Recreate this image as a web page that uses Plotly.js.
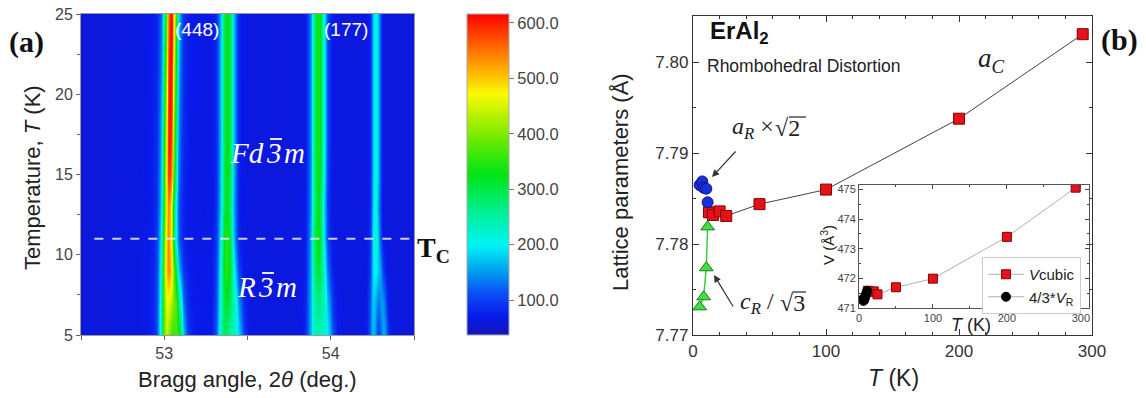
<!DOCTYPE html>
<html>
<head>
<meta charset="utf-8">
<script src="https://cdn.plot.ly/plotly-3.0.1.min.js"></script>
<style>html,body{margin:0;padding:0;background:#fff;}#plot{width:1146px;height:398px;}</style>
</head>
<body>
<div id="plot"></div>
<script>
// ---------- Panel (a): diffraction map, peak parameters ----------
const mapTemps = [5, 7, 9, 11, 13, 15, 17, 19, 21, 23, 25];           // K
const peak448Center = [53.012, 53.014, 53.017, 53.021, 53.026, 53.030, 53.032, 53.034, 53.036, 53.038, 53.040];
const peak448Amp    = [340, 350, 365, 395, 475, 530, 545, 550, 550, 550, 550];
const peak448SplitC = [53.078, 53.068, 53.052, 53.040, 53.03, 53.03, 53.03, 53.03, 53.03, 53.03, 53.03];
const peak448SplitA = [270, 250, 210, 100, 0, 0, 0, 0, 0, 0, 0];
const peakBCenter   = [53.360, 53.364, 53.368, 53.373, 53.376, 53.377, 53.378, 53.378, 53.378, 53.378, 53.378];
const peakBAmp      = [210, 215, 225, 245, 262, 270, 270, 270, 270, 270, 270];
const peakBSplitC   = [53.428, 53.418, 53.402, 53.386, 53.38, 53.38, 53.38, 53.38, 53.38, 53.38, 53.38];
const peakBSplitA   = [140, 130, 100, 50, 0, 0, 0, 0, 0, 0, 0];
const peak177Center = [53.905, 53.908, 53.913, 53.919, 53.922, 53.924, 53.925, 53.925, 53.925, 53.925, 53.925];
const peak177Amp    = [150, 160, 180, 225, 262, 275, 280, 280, 280, 280, 280];
const peak177SplitC = [53.968, 53.960, 53.948, 53.934, 53.93, 53.93, 53.93, 53.93, 53.93, 53.93, 53.93];
const peak177SplitA = [140, 130, 105, 55, 0, 0, 0, 0, 0, 0, 0];
const peakDCenter   = [54.253, 54.256, 54.261, 54.266, 54.268, 54.270, 54.270, 54.270, 54.270, 54.270, 54.270];
const peakDAmp      = [105, 110, 120, 140, 155, 160, 160, 160, 160, 160, 160];
const peakDSplitC   = [54.318, 54.308, 54.293, 54.280, 54.27, 54.27, 54.27, 54.27, 54.27, 54.27, 54.27];
const peakDSplitA   = [95, 90, 75, 35, 0, 0, 0, 0, 0, 0, 0];
const peakWidths    = [0.027, 0.030, 0.030, 0.018];   // sigma, deg (448, B, 177, D)
const peakLorentz   = [0.30, 0.12, 0.12, 0.12];       // Lorentzian fraction of each profile
const mapBackground = 60;
const cbTickVals = [100, 200, 300, 400, 500, 600];
const cbTickText = ['100.0', '200.0', '300.0', '400.0', '500.0', '600.0'];

// ---------- Panel (b): lattice parameters ----------
const cubicT = [12, 15, 20, 25, 50, 100, 200, 293];
const cubicA = [7.7835, 7.7832, 7.7836, 7.7831, 7.7844, 7.7860, 7.7938, 7.8031];
const rhombAT = [5, 7, 8, 10, 11];
const rhombA  = [7.7865, 7.7869, 7.7862, 7.7861, 7.7846];
const rhombCT = [5, 8, 10, 11];
const rhombC  = [7.7731, 7.7742, 7.7774, 7.7819];
// inset: volume
const volCubicT = [12, 15, 20, 25, 50, 100, 200, 293];
const volCubic  = [471.58, 471.55, 471.56, 471.46, 471.70, 471.99, 473.40, 475.06];
const volRhombT = [5, 6, 7, 8, 9, 10, 11];
const volRhomb  = [471.30, 471.24, 471.27, 471.33, 471.42, 471.50, 471.58];

// ---------- build heatmap grid ----------
const thetaGrid = [];
for (let i = 0; i <= 400; i++) thetaGrid.push(+(52.5 + i * 0.005).toFixed(3));
function pv(x, c, a, s, eta) {
  if (a <= 0) return 0;
  const d = x - c;
  const g = Math.exp(-d * d / (2 * s * s));
  const gam = 1.1774 * s;
  const l = 1 / (1 + (d / gam) * (d / gam));
  return a * ((1 - eta) * g + eta * l);
}
const peakSets = [
  [peak448Center, peak448Amp, peak448SplitC, peak448SplitA],
  [peakBCenter, peakBAmp, peakBSplitC, peakBSplitA],
  [peak177Center, peak177Amp, peak177SplitC, peak177SplitA],
  [peakDCenter, peakDAmp, peakDSplitC, peakDSplitA]
];
const zGrid = mapTemps.map((T, r) => thetaGrid.map(x => {
  let v = mapBackground;
  peakSets.forEach((p, k) => {
    v += pv(x, p[0][r], p[1][r], peakWidths[k], peakLorentz[k]);
    v += pv(x, p[2][r], p[3][r], peakWidths[k] * 1.05, peakLorentz[k]);
  });
  return v;
}));

const jet = [
  [0.00, 'rgb(20,20,185)'],
  [0.06, 'rgb(8,26,236)'],
  [0.13, 'rgb(10,80,245)'],
  [0.20, 'rgb(0,160,240)'],
  [0.28, 'rgb(0,245,245)'],
  [0.38, 'rgb(0,240,150)'],
  [0.50, 'rgb(0,228,20)'],
  [0.62, 'rgb(120,235,0)'],
  [0.75, 'rgb(250,250,0)'],
  [0.85, 'rgb(255,150,0)'],
  [0.93, 'rgb(255,70,0)'],
  [1.00, 'rgb(255,0,0)']
];

const W = 1146, H = 398;
const px = v => v / W, py = v => 1 - v / H;

const traces = [
  {
    type: 'heatmap', x: thetaGrid, y: mapTemps, z: zGrid,
    xaxis: 'x', yaxis: 'y', zsmooth: 'best', zmin: 37, zmax: 616,
    colorscale: jet, hoverinfo: 'skip',
    colorbar: {
      x: px(467), xanchor: 'left', y: py(174.5), yanchor: 'middle',
      thickness: 42, thicknessmode: 'pixels', len: 321, lenmode: 'pixels',
      tickvals: cbTickVals, ticktext: cbTickText, ticks: 'outside', ticklen: 5,
      tickcolor: '#777', outlinewidth: 1, outlinecolor: '#aaa', xpad: 0, ypad: 0,
      tickfont: {family: 'Liberation Sans, Arial, sans-serif', size: 16.5, color: '#444'}
    }
  },
  {
    type: 'scatter', mode: 'lines+markers', x: cubicT, y: cubicA, xaxis: 'x2', yaxis: 'y2',
    line: {color: '#444', width: 1},
    marker: {symbol: 'square', size: 11, color: '#e4121a', line: {color: '#8a0000', width: 1}},
    showlegend: false
  },
  {
    type: 'scatter', mode: 'markers', x: rhombAT, y: rhombA, xaxis: 'x2', yaxis: 'y2',
    marker: {symbol: 'circle', size: 11, color: '#1730d8', line: {color: '#0a1380', width: 1}},
    showlegend: false
  },
  {
    type: 'scatter', mode: 'lines+markers', x: rhombCT, y: rhombC, xaxis: 'x2', yaxis: 'y2',
    line: {color: '#3ccc3c', width: 1.5},
    marker: {symbol: 'triangle-up', size: 12, color: '#3fe03f', line: {color: '#1a7a1a', width: 1}},
    showlegend: false
  },
  {
    type: 'scatter', mode: 'lines+markers', x: volCubicT, y: volCubic, xaxis: 'x3', yaxis: 'y3',
    name: '<i>V</i>cubic',
    line: {color: '#b0b0b0', width: 1},
    marker: {symbol: 'square', size: 9, color: '#e4121a', line: {color: '#8a0000', width: 1}}
  },
  {
    type: 'scatter', mode: 'lines+markers', x: volRhombT, y: volRhomb, xaxis: 'x3', yaxis: 'y3',
    name: '4/3*<i>V</i><sub>R</sub>',
    line: {color: '#b0b0b0', width: 1},
    marker: {symbol: 'circle', size: 9, color: '#000', line: {color: '#000', width: 1}}
  }
];

const sans = 'Liberation Sans, Arial, sans-serif';
const serif = 'Liberation Serif, Times New Roman, serif';

function ann(x, y, text, opts) {
  return Object.assign({xref: 'paper', yref: 'paper', x: px(x), y: py(y), text: text,
    showarrow: false, xanchor: 'left', yanchor: 'middle'}, opts || {});
}
const white29 = {family: serif, size: 29, color: '#fff'};
const dark24 = {family: serif, size: 24, color: '#222'};

const annotations = [
  ann(7, 42, '<b>(a)</b>', {font: {family: serif, size: 30, color: '#111'}}),
  ann(1099, 40, '<b>(b)</b>', {font: {family: serif, size: 30, color: '#111'}}),
  ann(415, 249, '<b>T<sub>C</sub></b>', {font: {family: serif, size: 28, color: '#111'}}),
  ann(197, 30, '(448)', {xanchor: 'center', font: {family: sans, size: 19, color: '#fff'}}),
  ann(346, 30, '(177)', {xanchor: 'center', font: {family: sans, size: 19, color: '#fff'}}),
  // Fd-3m
  ann(266, 153, '<i>Fd</i>', {xanchor: 'right', font: white29}),
  ann(274, 153, '<i>3</i>', {xanchor: 'center', font: white29}),
  ann(282, 153, '<i>m</i>', {xanchor: 'left', font: white29}),
  // R-3m
  ann(258, 287, '<i>R</i>', {xanchor: 'right', font: white29}),
  ann(266, 287, '<i>3</i>', {xanchor: 'center', font: white29}),
  ann(274, 287, '<i>m</i>', {xanchor: 'left', font: white29}),
  ann(32, 178, 'Temperature, <i>T</i> (K)', {xanchor: 'center', textangle: -90, font: {family: sans, size: 22, color: '#222'}}),
  ann(247, 379, 'Bragg angle, 2<i>θ</i> (deg.)', {xanchor: 'center', font: {family: sans, size: 22, color: '#222'}}),
  ann(708, 32, '<b>ErAl<sub>2</sub></b>', {font: {family: sans, size: 24, color: '#111'}}),
  ann(705, 66, 'Rhombohedral Distortion', {font: {family: sans, size: 17.5, color: '#222'}}),
  ann(976, 60, '<i>a<sub>C</sub></i>', {font: {family: serif, size: 27, color: '#222'}}),
  ann(730, 128, '<i>a<sub>R</sub></i> ×', {font: dark24}),
  ann(773, 128, '√2', {font: dark24}),
  ann(738, 303, '<i>c<sub>R</sub></i> /', {font: dark24}),
  ann(778, 303, '√3', {font: dark24}),
  {xref: 'paper', yref: 'paper', x: px(712), y: py(177), ax: 25, ay: -27, text: '', showarrow: true,
   arrowhead: 2, arrowsize: 1.2, arrowwidth: 1.2, arrowcolor: '#333'},
  {xref: 'paper', yref: 'paper', x: px(714), y: py(275), ax: 20, ay: 33, text: '', showarrow: true,
   arrowhead: 2, arrowsize: 1.2, arrowwidth: 1.2, arrowcolor: '#333'},
  ann(620, 182, 'Lattice parameters (Å)', {xanchor: 'center', textangle: -90, font: {family: sans, size: 22, color: '#222'}}),
  ann(893, 378, '<i>T</i> (K)', {xanchor: 'center', font: {family: sans, size: 23, color: '#222'}}),
  ann(828, 245, 'V (Å<sup>3</sup>)', {xanchor: 'center', textangle: -90, font: {family: sans, size: 15, color: '#222'}}),
  ann(971, 325, '<i>T</i> (K)', {xanchor: 'center', font: {family: sans, size: 18, color: '#222'}})
];

function bar(x0, x1, y, color, w) {
  return {type: 'line', xref: 'paper', yref: 'paper', x0: px(x0), x1: px(x1), y0: py(y), y1: py(y),
    line: {color: color, width: w}};
}

const tickA = {family: sans, size: 16, color: '#444'};
const tickB = {family: sans, size: 17, color: '#333'};
const layout = {
  width: W, height: H, margin: {l: 0, r: 0, t: 0, b: 0},
  paper_bgcolor: '#fff', plot_bgcolor: 'rgba(0,0,0,0)',
  showlegend: true,
  legend: {x: px(982), y: py(257), xanchor: 'left', yanchor: 'top', bgcolor: '#fff',
    bordercolor: '#ccc', borderwidth: 1, font: {family: sans, size: 15, color: '#222'},
    tracegroupgap: 0, itemwidth: 36},
  xaxis: {domain: [px(81), px(414)], range: [52.5, 54.5], tickvals: [53, 54], ticks: 'outside',
    ticklen: 4, tickcolor: '#666', showline: true, linecolor: '#999', mirror: true, showgrid: false,
    zeroline: false, tickfont: tickA, anchor: 'y',
    minor: {dtick: 0.5, tick0: 52.5, ticks: 'outside', ticklen: 4, tickcolor: '#666', showgrid: false}},
  yaxis: {domain: [py(335), py(14)], range: [5, 25], dtick: 5, ticks: 'outside', ticklen: 4,
    tickcolor: '#666', showline: true, linecolor: '#999', mirror: true, showgrid: false,
    zeroline: false, tickfont: tickA, anchor: 'x',
    minor: {dtick: 2.5, ticks: 'outside', ticklen: 3, tickcolor: '#666', showgrid: false}},
  xaxis2: {domain: [px(693), px(1092)], range: [0, 300], dtick: 100, ticks: 'inside', ticklen: 6,
    tickcolor: '#333', showline: true, linecolor: '#333', linewidth: 1.2, mirror: 'ticks',
    showgrid: false, zeroline: false, anchor: 'y2', tickfont: tickB,
    minor: {dtick: 20, ticks: 'inside', ticklen: 3, tickcolor: '#333', showgrid: false}},
  yaxis2: {domain: [py(335), py(16)], range: [7.77, 7.8051], dtick: 0.01, tickformat: '.2f',
    ticks: 'inside', ticklen: 6, tickcolor: '#333', showline: true, linecolor: '#333', linewidth: 1.2,
    mirror: 'ticks', showgrid: false, zeroline: false, anchor: 'x2', tickfont: tickB,
    minor: {dtick: 0.005, ticks: 'inside', ticklen: 3, tickcolor: '#333', showgrid: false}},
  xaxis3: {domain: [px(859), px(1089)], range: [0, 311], dtick: 100, ticks: 'inside', ticklen: 4,
    tickcolor: '#444', showline: true, linecolor: '#555', mirror: 'ticks', showgrid: false,
    zeroline: false, anchor: 'y3', tickfont: {family: sans, size: 11, color: '#444'},
    minor: {dtick: 50, ticks: 'inside', ticklen: 2, tickcolor: '#444', showgrid: false}},
  yaxis3: {domain: [py(308), py(185)], range: [471, 475.15], dtick: 1, ticks: 'inside', ticklen: 4,
    tickcolor: '#444', showline: true, linecolor: '#555', mirror: 'ticks', showgrid: false,
    zeroline: false, anchor: 'x3', tickfont: {family: sans, size: 11, color: '#444'},
    minor: {dtick: 0.5, ticks: 'inside', ticklen: 2, tickcolor: '#444', showgrid: false}},
  shapes: [
    {type: 'line', xref: 'x', yref: 'y', x0: 52.58, x1: 54.48, y0: 11, y1: 11,
     line: {color: 'rgba(235,235,255,0.85)', width: 2, dash: 'dash'}},
    bar(270, 282, 139, '#fff', 1.8),
    bar(262, 274, 273, '#fff', 1.8),
    bar(789, 806, 117, '#222', 1.2),
    bar(793, 806, 292, '#222', 1.2)
  ],
  annotations: annotations
};

Plotly.newPlot('plot', traces, layout, {displayModeBar: false, staticPlot: true});
</script>
</body>
</html>
